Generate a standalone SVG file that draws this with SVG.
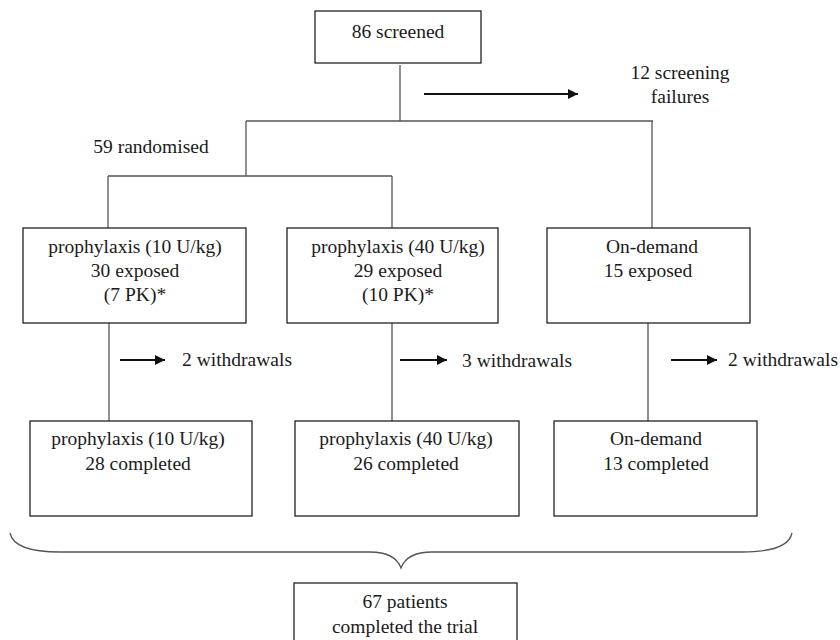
<svg xmlns="http://www.w3.org/2000/svg" width="840" height="640" viewBox="0 0 840 640">
<defs>
<marker id="ah" viewBox="0 0 10 10" refX="10" refY="5" markerWidth="5" markerHeight="5" orient="auto" markerUnits="strokeWidth">
<path d="M0,0 L10,5 L0,10 Z" fill="#111"/>
</marker>
</defs>
<rect width="840" height="640" fill="#fff"/>
<g id="connectors" fill="none" stroke="#555" stroke-width="1.3">
<line x1="400" y1="65" x2="400" y2="121"/>
<line x1="246" y1="121" x2="653" y2="121"/>
<line x1="246" y1="121" x2="246" y2="176"/>
<line x1="108" y1="176" x2="392" y2="176"/>
<line x1="108" y1="176" x2="108" y2="228"/>
<line x1="392" y1="176" x2="392" y2="228"/>
<line x1="652" y1="121" x2="652" y2="228"/>
<line x1="109" y1="323" x2="109" y2="421"/>
<line x1="392" y1="323" x2="392" y2="421"/>
<line x1="648" y1="323" x2="648" y2="421"/>
<g stroke="#111" stroke-width="2">
<line x1="424" y1="94" x2="578" y2="94" marker-end="url(#ah)"/>
<line x1="120" y1="360" x2="165" y2="360" marker-end="url(#ah)"/>
<line x1="400" y1="360" x2="447" y2="360" marker-end="url(#ah)"/>
<line x1="671" y1="360" x2="717" y2="360" marker-end="url(#ah)"/>
</g>
<path d="M10,533 Q14,552 60,552 L370,552 Q395,552 401,568 Q407,552 432,552 L742,552 Q788,552 792,533"/>
</g>
<g id="screened">
<rect x="315" y="11" width="166" height="52" fill="#fff" stroke="#222" stroke-width="1.3"/>
<text x="398" y="38" font-family="Liberation Serif" font-size="19.5" fill="#1a1a1a" text-anchor="middle">86 screened</text>
</g>
<g id="failures">
<text x="680" y="79" font-family="Liberation Serif" font-size="19.5" fill="#1a1a1a" text-anchor="middle">12 screening</text>
<text x="680" y="103" font-family="Liberation Serif" font-size="19.5" fill="#1a1a1a" text-anchor="middle">failures</text>
</g>
<g id="randomised">
<text x="151" y="153" font-family="Liberation Serif" font-size="19.5" fill="#1a1a1a" text-anchor="middle">59 randomised</text>
</g>
<g id="arm1">
<rect x="23" y="228" width="223" height="95" fill="#fff" stroke="#222" stroke-width="1.3"/>
<text x="135" y="253" font-family="Liberation Serif" font-size="19.5" fill="#1a1a1a" text-anchor="middle">prophylaxis (10 U/kg)</text>
<text x="135" y="277" font-family="Liberation Serif" font-size="19.5" fill="#1a1a1a" text-anchor="middle">30 exposed</text>
<text x="135" y="301" font-family="Liberation Serif" font-size="19.5" fill="#1a1a1a" text-anchor="middle">(7 PK)*</text>
</g>
<g id="arm2">
<rect x="287" y="228" width="211" height="95" fill="#fff" stroke="#222" stroke-width="1.3"/>
<text x="398" y="253" font-family="Liberation Serif" font-size="19.5" fill="#1a1a1a" text-anchor="middle">prophylaxis (40 U/kg)</text>
<text x="398" y="277" font-family="Liberation Serif" font-size="19.5" fill="#1a1a1a" text-anchor="middle">29 exposed</text>
<text x="398" y="301" font-family="Liberation Serif" font-size="19.5" fill="#1a1a1a" text-anchor="middle">(10 PK)*</text>
</g>
<g id="arm3">
<rect x="547" y="228" width="203" height="95" fill="#fff" stroke="#222" stroke-width="1.3"/>
<text x="652" y="253" font-family="Liberation Serif" font-size="19.5" fill="#1a1a1a" text-anchor="middle">On-demand</text>
<text x="648" y="277" font-family="Liberation Serif" font-size="19.5" fill="#1a1a1a" text-anchor="middle">15 exposed</text>
</g>
<g id="wd1"><text x="237" y="366" font-family="Liberation Serif" font-size="19.5" fill="#1a1a1a" text-anchor="middle">2 withdrawals</text></g>
<g id="wd2"><text x="517" y="367" font-family="Liberation Serif" font-size="19.5" fill="#1a1a1a" text-anchor="middle">3 withdrawals</text></g>
<g id="wd3"><text x="783" y="366" font-family="Liberation Serif" font-size="19.5" fill="#1a1a1a" text-anchor="middle">2 withdrawals</text></g>
<g id="done1">
<rect x="30" y="421" width="222" height="95" fill="#fff" stroke="#222" stroke-width="1.3"/>
<text x="138" y="445" font-family="Liberation Serif" font-size="19.5" fill="#1a1a1a" text-anchor="middle">prophylaxis (10 U/kg)</text>
<text x="138" y="470" font-family="Liberation Serif" font-size="19.5" fill="#1a1a1a" text-anchor="middle">28 completed</text>
</g>
<g id="done2">
<rect x="295" y="421" width="224" height="95" fill="#fff" stroke="#222" stroke-width="1.3"/>
<text x="406" y="445" font-family="Liberation Serif" font-size="19.5" fill="#1a1a1a" text-anchor="middle">prophylaxis (40 U/kg)</text>
<text x="406" y="470" font-family="Liberation Serif" font-size="19.5" fill="#1a1a1a" text-anchor="middle">26 completed</text>
</g>
<g id="done3">
<rect x="554" y="421" width="203" height="95" fill="#fff" stroke="#222" stroke-width="1.3"/>
<text x="656" y="445" font-family="Liberation Serif" font-size="19.5" fill="#1a1a1a" text-anchor="middle">On-demand</text>
<text x="656" y="470" font-family="Liberation Serif" font-size="19.5" fill="#1a1a1a" text-anchor="middle">13 completed</text>
</g>
<g id="total">
<rect x="294" y="583" width="223" height="70" fill="#fff" stroke="#222" stroke-width="1.3"/>
<text x="405" y="608" font-family="Liberation Serif" font-size="19.5" fill="#1a1a1a" text-anchor="middle">67 patients</text>
<text x="405" y="633" font-family="Liberation Serif" font-size="19.5" fill="#1a1a1a" text-anchor="middle">completed the trial</text>
</g>
</svg>
